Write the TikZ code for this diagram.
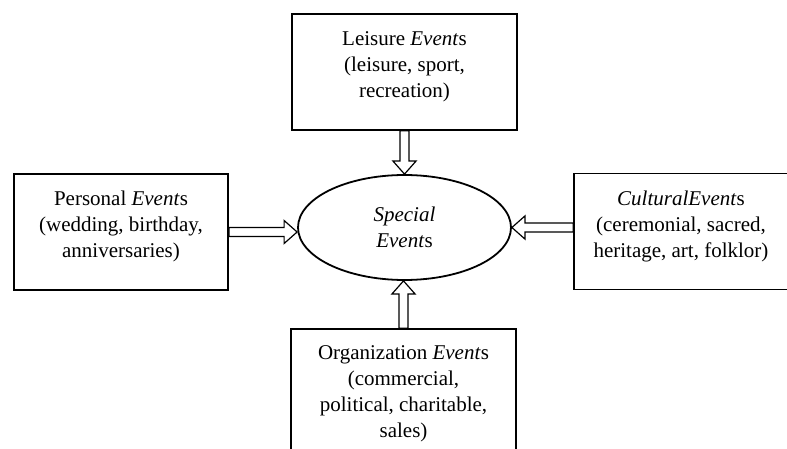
\documentclass[tikz,border=0pt]{standalone}
\usepackage{fontspec}
\setmainfont{Liberation Serif}
\usetikzlibrary{positioning,calc,shapes.geometric}

\begin{document}
\begin{tikzpicture}[x=1pt, y=-1pt,
    eventbox/.style={rectangle, draw, line width=1.8pt, minimum height=116pt},
    boxtext/.style={align=center, inner sep=0pt, anchor=north,
                    font=\fontsize{21}{26}\selectfont},
    hollow/.style={line width=1.2pt, to path={
        let \p1=($(\tikztotarget)-(\tikztostart)$),
            \n1={atan2(\y1,\x1)}, \n2={veclen(\x1,\y1)} in
        ($(\tikztostart)+(\n1+90:4.5pt)$)
        -- ($(\tikztostart)+(\n1:{\n2-13pt})+(\n1+90:4.5pt)$)
        -- ($(\tikztostart)+(\n1:{\n2-13pt})+(\n1+90:11.5pt)$)
        -- (\tikztotarget)
        -- ($(\tikztostart)+(\n1:{\n2-13pt})+(\n1-90:11.5pt)$)
        -- ($(\tikztostart)+(\n1:{\n2-13pt})+(\n1-90:4.5pt)$)
        -- ($(\tikztostart)+(\n1-90:4.5pt)$) -- cycle}}]

\path[use as bounding box, clip] (0,0) rectangle (787,449);

% boxes round the centre
\node[eventbox, minimum width=225pt] (leisure) at (404.5,72) {};
\node[eventbox, minimum width=214pt] (personal) at (121,232) {};
\node[eventbox, minimum width=214pt] (cultural) at (681,231.5) {};
\node[eventbox, minimum width=225pt, minimum height=135pt] (organization) at (403.5,396.5) {};

\node[boxtext, below=18pt of leisure.north] (leisuretext)
    {Leisure \textit{Event}s\\(leisure, sport,\\recreation)};
\node[boxtext, below=18pt of personal.north] (personaltext)
    {Personal \textit{Event}s\\(wedding, birthday,\\anniversaries)};
\node[boxtext, below=18pt of cultural.north] (culturaltext)
    {\textit{CulturalEvent}s\\(ceremonial, sacred,\\heritage, art, folklor)};
\node[boxtext, below=17pt of organization.north] (organizationtext)
    {Organization \textit{Event}s\\(commercial,\\political, charitable,\\sales)};

\node[ellipse, draw, line width=1.8pt, minimum width=213pt, minimum height=105pt,
      inner sep=0pt, align=center, font=\fontsize{21}{26}\selectfont]
    (special) at (404.5,227.5) {\textit{Special}\\\textit{Event}s};

\draw[hollow] (leisure.south) to (special.north);
\draw[hollow] (personal.east) to (personal.east -| special.west);
\draw[hollow] (cultural.west |- special.east) to (special.east);
\draw[hollow] (organization.north) to (organization.north |- special.south);
\end{tikzpicture}
\end{document}
